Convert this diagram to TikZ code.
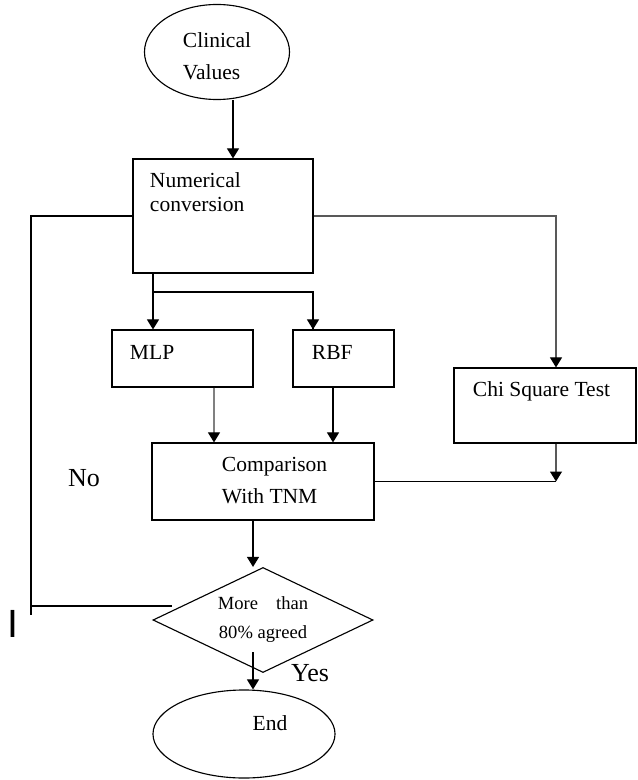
\documentclass[tikz,border=0pt]{standalone}
\usepackage{fontspec}
\setmainfont{Liberation Serif}
\setsansfont{Liberation Sans}
\usetikzlibrary{calc,shapes,arrows.meta,positioning}

\begin{document}
\begin{tikzpicture}[x=0.025cm,y=-0.025cm,line width=0.8pt,
  box/.style={draw,rectangle,inner sep=0pt},
  txt/.style={anchor=north west,inner sep=0pt,align=left,font=\fontsize{15.3}{17}\selectfont},
  big/.style={inner sep=0pt,font=\fontsize{18.5}{20}\selectfont},
  arr/.style={-{Triangle[length=0.25cm,width=0.3cm,color=black]}}]
\useasboundingbox (0,0) rectangle (637,780);

% x guides for the connectors
\foreach \n/\x in {xa/233,xs/153,xq/313,xm/214,xr/333,xd/253,xc/556}
  \coordinate (\n) at (\x,0);
\coordinate (split) at (153,292);
\coordinate (lp) at (31,606);
\coordinate (lend) at (172,606);
\coordinate (ys) at (253,652);

\node [draw,ellipse,inner sep=0pt,minimum width=3.625cm,minimum height=2.375cm,
  label={[inner sep=0pt,align=left,font=\fontsize{15.3}{22.8}\selectfont,yshift=-0.1cm]center:Clinical\\Values}] (clin) at (217,52) {};

\node [box,minimum width=4.5cm,minimum height=2.85cm,
  label={[txt,xshift=0.425cm,yshift=-0.35cm]north west:Numerical\\conversion}] (num) at (223,216) {};

\node [box,minimum width=3.525cm,minimum height=1.425cm,
  label={[txt,xshift=0.45cm,yshift=-0.375cm]north west:MLP}] (mlp) at (182.5,358.5) {};
\node [box,minimum width=2.525cm,minimum height=1.425cm,
  label={[txt,xshift=0.475cm,yshift=-0.375cm]north west:RBF}] (rbf) at (343.5,358.5) {};

\node [box,minimum width=4.55cm,minimum height=1.875cm,
  label={[txt,xshift=0.475cm,yshift=-0.35cm]north west:Chi Square Test}] (chi) at (545,405.5) {};

\node [box,minimum width=5.55cm,minimum height=1.925cm,
  label={[txt,font=\fontsize{15.3}{22.8}\selectfont,xshift=1.75cm,yshift=-0.35cm]north west:Comparison\\With TNM}] (cmp) at (263,481.5) {};

\node [draw,diamond,aspect=2.1,inner sep=0pt,minimum width=5.5cm,minimum height=2.625cm,
  align=center,font=\fontsize{13.2}{20.6}\selectfont] (dec) at (263,620)
  {More\hspace*{0.45cm}than\\80\% agreed};

\node [draw,ellipse,inner sep=0pt,minimum width=4.55cm,minimum height=2.2cm,
  label={[inner sep=0pt,font=\fontsize{15.3}{17}\selectfont,xshift=0.65cm,yshift=0.275cm]center:End}] (endn) at (244,734) {};

\node [big] (no) at (84,478) {No};
\node [big] (yes) at (310,673) {Yes};
\node [inner sep=0pt,font=\fontsize{28}{30}\selectfont\sffamily] (cur) at (13,624) {I};

% connectors
\draw[arr] (xa |- clin.south) -- (xa |- num.north);
\draw (num.west) -| ($(lp)+(0,9)$);
\draw (lp) -- (lend);
\draw[arr,gray!70!black] (num.east) -| (xc |- chi.north);
\draw (xs |- num.south) -- (split) -| (xq |- rbf.north);
\draw[arr] (split) -- (xs |- mlp.north);
\draw[arr] (split) -| (xq |- rbf.north);
\draw[arr,gray] (xm |- mlp.south) -- (xm |- cmp.north);
\draw[arr] (xr |- rbf.south) -- (xr |- cmp.north);
\coordinate (join) at (xc |- cmp.east);
\draw[arr,gray!70!black] (xc |- chi.south) -- (join);
\draw (cmp.east) -- (join);
\draw[arr] (xd |- cmp.south) -- (xd |- dec.north);
\draw[arr] (ys) -- (ys |- endn.north);

\end{tikzpicture}
\end{document}
